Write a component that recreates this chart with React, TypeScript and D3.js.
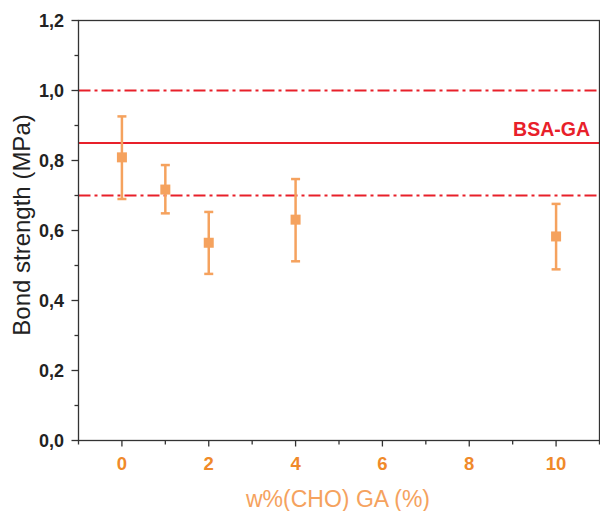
import React from "react";
import * as d3 from "d3";

const xValues = [0, 1, 2, 4, 10];
const yValues = [0.809, 0.717, 0.565, 0.631, 0.583];
const errUpper = [0.926, 0.787, 0.653, 0.747, 0.676];
const errLower = [0.69, 0.649, 0.476, 0.512, 0.489];
const xTicks = [0, 2, 4, 6, 8, 10];
const yTicks = [0, 0.2, 0.4, 0.6, 0.8, 1.0, 1.2];
const refSolid = 0.85;
const refDashed = [0.7, 1.0];
const refLabel = "BSA-GA";

const W = 600, H = 511;
const left = 78.5, right = 599.5, top = 20.5, bottom = 440.5;

export default function App() {
  const x = d3.scaleLinear().domain([-1, 11]).range([left, right]);
  const y = d3.scaleLinear().domain([0, 1.2]).range([bottom, top]);
  const fmt = (v: number) => v.toFixed(1).replace(".", ",");
  const minorY = d3.range(0.1, 1.2, 0.2);
  const minorX = d3.range(-1, 12, 2);
  const red = "#E8202A";
  const orange = "#F5A25E";
  const axisCol = "#333";
  return (
    <svg width={W} height={H} style={{ position: "absolute", left: 0, top: 0 }} fontFamily="Liberation Sans, Arial, sans-serif">
      <rect width={W} height={H} fill="#fff" />
      {refDashed.map((v, i) => (
        <line key={i} x1={left} x2={right} y1={y(v)} y2={y(v)} stroke={red} strokeWidth={2} strokeDasharray="12 4 3 4" />
      ))}
      <line x1={left} x2={right} y1={y(refSolid)} y2={y(refSolid)} stroke={red} strokeWidth={2.2} />
      <text x={590} y={136} textAnchor="end" fill={red} fontWeight="bold" fontSize={19.5}>{refLabel}</text>
      {xValues.map((xv, i) => (
        <g key={i} stroke={orange} strokeWidth={2.5}>
          <line x1={x(xv)} x2={x(xv)} y1={y(errUpper[i])} y2={y(errLower[i])} />
          <line x1={x(xv) - 4.5} x2={x(xv) + 4.5} y1={y(errUpper[i])} y2={y(errUpper[i])} />
          <line x1={x(xv) - 4.5} x2={x(xv) + 4.5} y1={y(errLower[i])} y2={y(errLower[i])} />
          <rect x={x(xv) - 5} y={y(yValues[i]) - 5} width={10} height={10} fill={orange} stroke="none" />
        </g>
      ))}
      <rect x={left} y={top} width={right - left} height={bottom - top} fill="none" stroke={axisCol} strokeWidth={1.3} />
      {yTicks.map((t) => (
        <g key={t}>
          <line x1={left - 7} x2={left} y1={y(t)} y2={y(t)} stroke={axisCol} strokeWidth={1.3} />
          <text x={64} y={y(t) + 6.5} textAnchor="end" fontWeight="bold" fontSize={18} fill="#222">{fmt(t)}</text>
        </g>
      ))}
      {minorY.map((t) => (
        <line key={t} x1={left - 4} x2={left} y1={y(t)} y2={y(t)} stroke={axisCol} strokeWidth={1.3} />
      ))}
      {xTicks.map((t) => (
        <g key={t}>
          <line x1={x(t)} x2={x(t)} y1={bottom} y2={bottom + 6} stroke={axisCol} strokeWidth={1.3} />
          <text x={x(t)} y={470} textAnchor="middle" fontWeight="bold" fontSize={18.5} fill="#F08A2A">{t}</text>
        </g>
      ))}
      {minorX.map((t) => (
        <line key={t} x1={x(t)} x2={x(t)} y1={bottom} y2={bottom + 4} stroke={axisCol} strokeWidth={1.3} />
      ))}
      <text x={338} y={507} textAnchor="middle" fontSize={23} fill={orange}>w%(CHO) GA (%)</text>
      <text transform={`translate(30, 225) rotate(-90)`} textAnchor="middle" fontSize={24} fill="#222">Bond strength (MPa)</text>
    </svg>
  );
}
